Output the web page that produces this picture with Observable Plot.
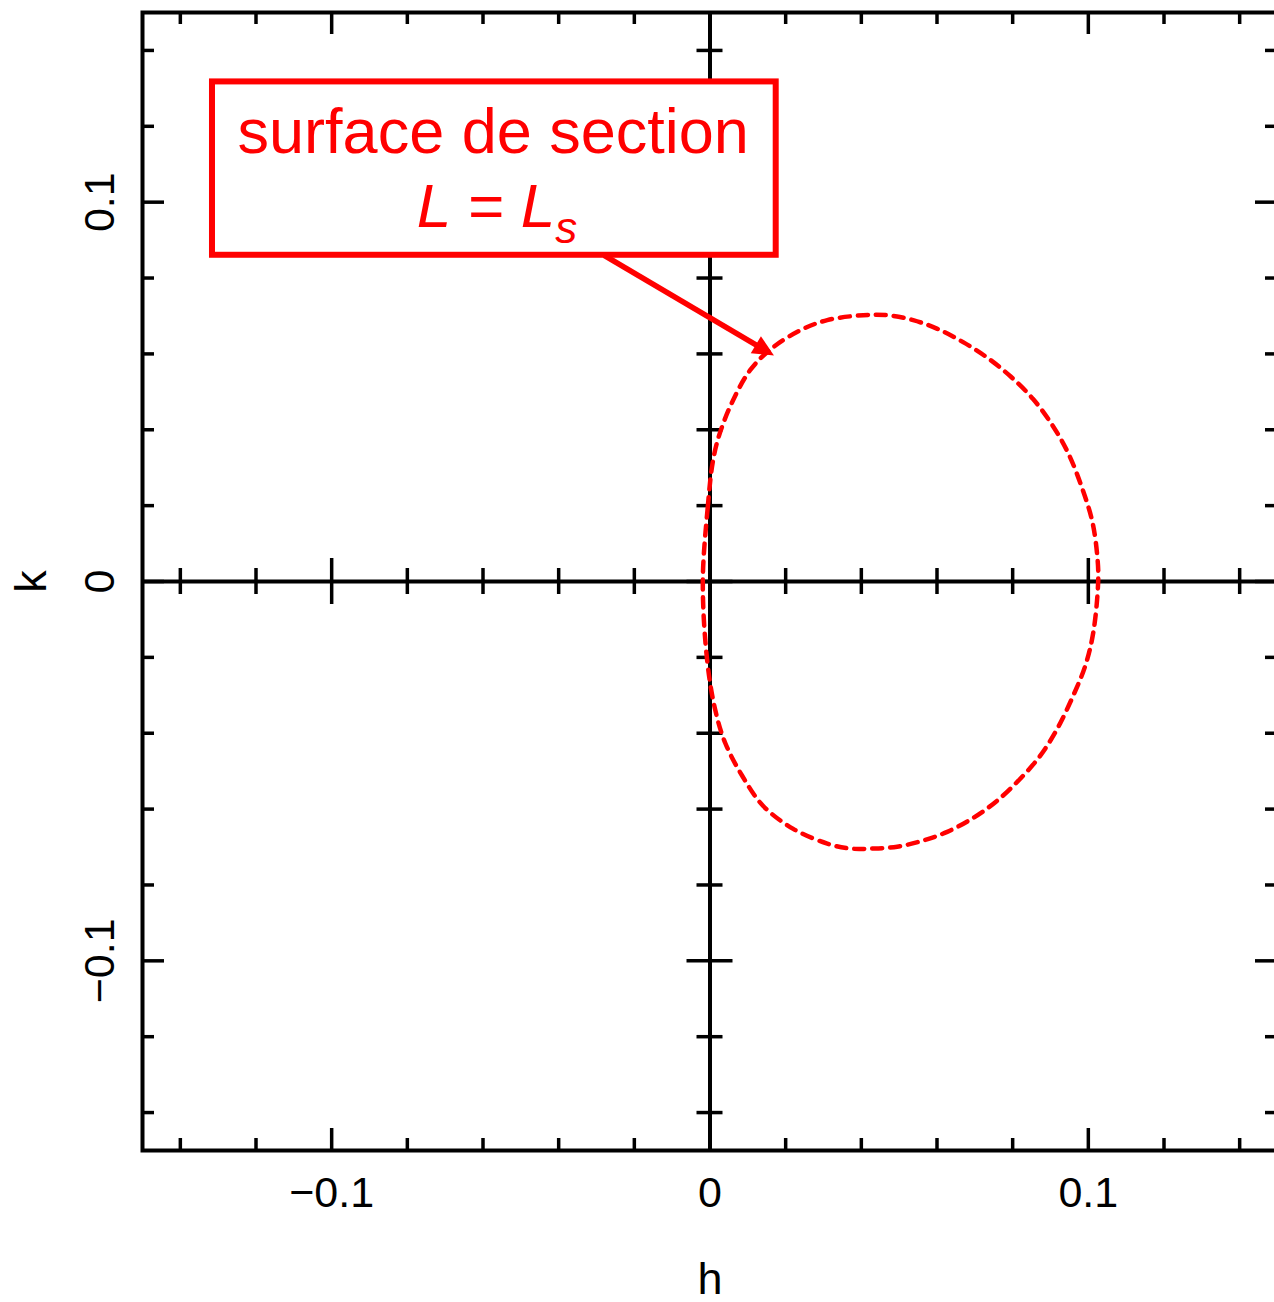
<!DOCTYPE html>
<html>
<head>
<meta charset="utf-8">
<script src="https://cdn.jsdelivr.net/npm/d3@7"></script>
<script src="https://cdn.jsdelivr.net/npm/@observablehq/plot@0.6"></script>
<style>
  html, body { margin: 0; padding: 0; background: #fff; overflow: hidden; }
  svg { max-width: none !important; display: block; }
</style>
</head>
<body>
<script>
// Surface of section in the (h, k) plane: the closed curve L = Ls
const hCurve = [-0.0019, -0.0006, 0.0008, 0.0026, 0.0061, 0.0106, 0.0160, 0.0238, 0.0310, 0.0405,
  0.0468, 0.0537, 0.0601, 0.0669, 0.0733, 0.0794, 0.0854, 0.0905, 0.0947, 0.0984, 0.1011, 0.1024,
  0.1026, 0.1013, 0.0992, 0.0960, 0.0918, 0.0873, 0.0820, 0.0759, 0.0696, 0.0627, 0.0563, 0.0495,
  0.0431, 0.0370, 0.0310, 0.0220, 0.0140, 0.0085, 0.0040, 0.0013, -0.0008];
const kCurve = [0.0000, 0.0195, 0.0319, 0.0391, 0.0478, 0.0557, 0.0612, 0.0662, 0.0689, 0.0702,
  0.0702, 0.0689, 0.0666, 0.0631, 0.0590, 0.0541, 0.0481, 0.0412, 0.0338, 0.0245, 0.0156, 0.0063,
  0.0000, -0.0135, -0.0222, -0.0301, -0.0388, -0.0459, -0.0520, -0.0578, -0.0623, -0.0660, -0.0683, -0.0699,
  -0.0704, -0.0704, -0.0691, -0.0652, -0.0591, -0.0512, -0.0425, -0.0335, -0.0203];

// Axes
const axisDomain = [-0.15, 0.15];
const majorTicks = [-0.1, 0, 0.1];
const minorTicks = [-0.14, -0.12, -0.08, -0.06, -0.04, -0.02, 0.02, 0.04, 0.06, 0.08, 0.12, 0.14];
const tickLabels = ["\u22120.1", "0", "0.1"];
const xLabel = "h";
const yLabel = "k";

// Annotation box and its pointer, in (h, k) units
const boxH = [-0.1315, 0.0175];
const boxK = [0.0860, 0.1317];
const noteLines = ["surface de section", "L = Ls"];
const noteH = [-0.0573, -0.0563];
const noteK = [0.1129, 0.0934];
const pointerH = [-0.0280, 0.0169];
const pointerK = [0.0860, 0.0596];

const curve = hCurve.map((h, i) => ({h, k: kCurve[i]}));

const width = 1280, height = 1302;
const mL = 142, mR = 3, mT = 12, mB = 152;
const W = width - mL - mR;   // frame width in px
const H = height - mT - mB;  // frame height in px
const ink = "#000";
const red = "#ff0000";
const tw = 3.5;

const tickSet = (ticks, len) => [
  // frame ticks, pointing inward
  Plot.tickX(ticks, {x: d => d, stroke: ink, strokeWidth: tw, insetTop: H - len}),
  Plot.tickX(ticks, {x: d => d, stroke: ink, strokeWidth: tw, insetBottom: H - len}),
  Plot.tickY(ticks, {y: d => d, stroke: ink, strokeWidth: tw, insetRight: W - len}),
  Plot.tickY(ticks, {y: d => d, stroke: ink, strokeWidth: tw, insetLeft: W - len}),
  // ticks crossing the axes through the origin
  Plot.tickX(ticks, {x: d => d, stroke: ink, strokeWidth: tw, insetTop: H / 2 - len - 1, insetBottom: H / 2 - len - 1}),
  Plot.tickY(ticks, {y: d => d, stroke: ink, strokeWidth: tw, insetLeft: W / 2 - len - 1, insetRight: W / 2 - len - 1})
];

const chart = Plot.plot({
  width, height,
  marginLeft: mL, marginRight: mR, marginTop: mT, marginBottom: mB,
  x: {domain: axisDomain, axis: null},
  y: {domain: axisDomain, axis: null},
  style: {fontFamily: "'Liberation Sans', Arial, Helvetica, sans-serif", background: "#fff", maxWidth: "none", overflow: "visible"},
  marks: [
    Plot.ruleX([0], {stroke: ink, strokeWidth: 4}),
    Plot.ruleY([0], {stroke: ink, strokeWidth: 4}),
    ...tickSet(minorTicks, 12),
    ...tickSet(majorTicks, 22),
    Plot.frame({stroke: ink, strokeWidth: 4}),

    // tick labels
    Plot.text(tickLabels, {x: (d, i) => majorTicks[i], y: () => axisDomain[0], dy: 56,
      lineAnchor: "bottom", textAnchor: "middle", fontSize: 43, fill: ink}),
    Plot.text(tickLabels, {x: () => axisDomain[0], y: (d, i) => majorTicks[i], dx: -29, rotate: -90,
      lineAnchor: "bottom", textAnchor: "middle", fontSize: 43, fill: ink}),

    // axis titles
    Plot.text([xLabel], {x: () => 0, y: () => axisDomain[0], dy: 143, lineAnchor: "bottom",
      textAnchor: "middle", fontSize: 45, fill: ink}),
    Plot.text([yLabel], {x: () => axisDomain[0], y: () => 0, dx: -97, rotate: -90, lineAnchor: "bottom",
      textAnchor: "middle", fontSize: 45, fill: ink}),

    // the surface of section
    Plot.line(curve, {x: "h", y: "k", curve: "catmull-rom-closed", stroke: red, strokeWidth: 4.5,
      strokeDasharray: "10,8"}),

    // annotation
    Plot.rect([0], {x1: () => boxH[0], x2: () => boxH[1], y1: () => boxK[0], y2: () => boxK[1],
      fill: "#fff", stroke: red, strokeWidth: 6}),
    Plot.text([noteLines[0]], {x: () => noteH[0], y: () => noteK[0], lineAnchor: "bottom",
      textAnchor: "middle", fontSize: 63, fill: red}),
    Plot.text([noteLines[1]], {x: () => noteH[1], y: () => noteK[1], lineAnchor: "bottom",
      textAnchor: "middle", fontSize: 62, fontStyle: "italic", fill: red}),
    Plot.link([0], {x1: () => pointerH[0], y1: () => pointerK[0], x2: () => pointerH[1], y2: () => pointerK[1],
      stroke: red, strokeWidth: 5.5})
  ]
});

document.body.append(chart);

const svg = d3.select(chart);

// subscript s in the formula
svg.selectAll("text").filter(function () { return this.textContent === noteLines[1]; })
  .each(function () {
    const t = d3.select(this);
    t.text(null);
    t.append("tspan").text("L = L");
    t.append("tspan").attr("font-size", 44).attr("dy", 16).text("s");
  });

// filled arrowhead on the pointer
const defs = svg.insert("defs", ":first-child");
defs.append("marker")
  .attr("id", "pointer-head")
  .attr("viewBox", "-22 -12 24 24")
  .attr("markerUnits", "userSpaceOnUse")
  .attr("markerWidth", 24).attr("markerHeight", 24)
  .attr("refX", 0).attr("refY", 0)
  .attr("orient", "auto")
  .append("path")
  .attr("d", "M0,0L-21,-10L-21,10Z")
  .attr("fill", red);

svg.selectAll('g[aria-label="link"] path').each(function () {
  const p = d3.select(this);
  p.attr("marker-end", "url(#pointer-head)");
  const len = this.getTotalLength();
  p.attr("stroke-dasharray", `${len - 14} ${len}`);
});
</script>
</body>
</html>
